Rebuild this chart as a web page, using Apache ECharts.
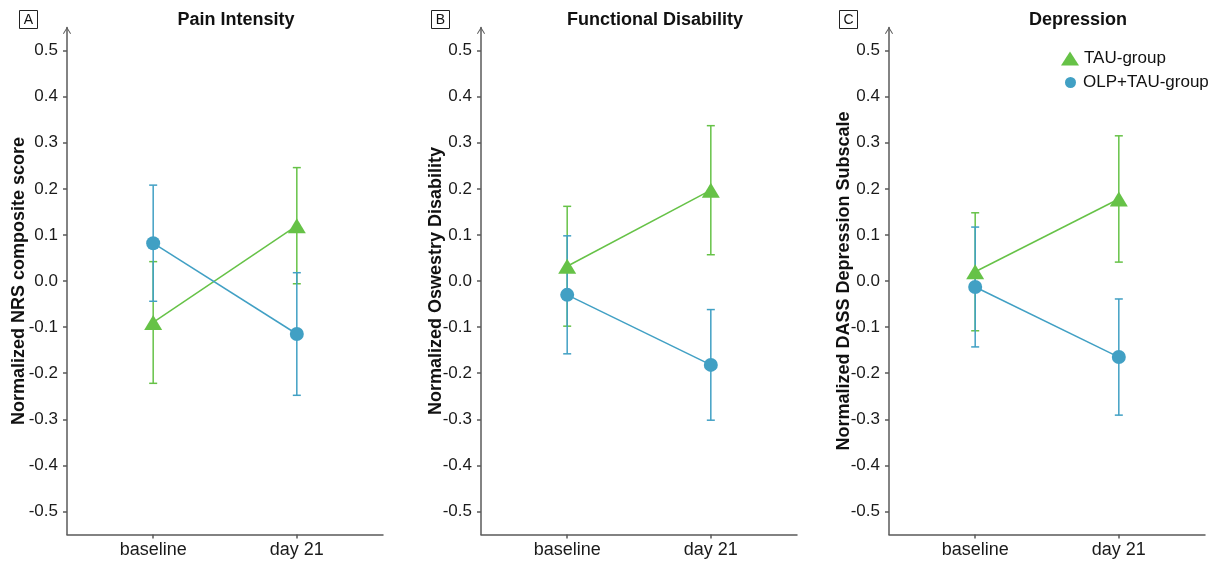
<!DOCTYPE html>
<html><head><meta charset="utf-8">
<script src="https://cdn.jsdelivr.net/npm/echarts@6/dist/echarts.min.js"></script>
<style>html,body{margin:0;padding:0;background:#fff}#c{width:1231px;height:565px}</style>
</head><body><div id="c"></div>
<script>
// ---- data ----
const categories = ['baseline', 'day 21'];
const panelLetters = ['A', 'B', 'C'];
const panelTitles = ['Pain Intensity', 'Functional Disability', 'Depression'];
const yAxisNames = ['Normalized NRS composite score', 'Normalized Oswestry Disability', 'Normalized DASS Depression Subscale'];
const yTickValues = [-0.5, -0.4, -0.3, -0.2, -0.1, 0, 0.1, 0.2, 0.3, 0.4, 0.5];
const groupNames = ['TAU-group', 'OLP+TAU-group'];

const painTauMean = [-0.09, 0.12];
const painTauErr = [0.132, 0.126];
const painOlpMean = [0.082, -0.115];
const painOlpErr = [0.126, 0.133];

const disabTauMean = [0.032, 0.197];
const disabTauErr = [0.13, 0.14];
const disabOlpMean = [-0.03, -0.182];
const disabOlpErr = [0.128, 0.12];

const deprTauMean = [0.02, 0.178];
const deprTauErr = [0.128, 0.137];
const deprOlpMean = [-0.013, -0.165];
const deprOlpErr = [0.13, 0.126];

const panels = [
  { tauMean: painTauMean, tauErr: painTauErr, olpMean: painOlpMean, olpErr: painOlpErr },
  { tauMean: disabTauMean, tauErr: disabTauErr, olpMean: disabOlpMean, olpErr: disabOlpErr },
  { tauMean: deprTauMean, tauErr: deprTauErr, olpMean: deprOlpMean, olpErr: deprOlpErr }
];

// ---- styles ----
const GREEN = '#66c247';
const BLUE = '#41a0c4';
const AXIS = '#5a5a5a';
const FONT = '"Liberation Sans", Arial, Helvetica, sans-serif';
const gridLefts = [67, 481, 889];
const titleCenters = [236, 655, 1078];
const boxLefts = [19, 431, 839];
const nameGaps = [39, 36, 36];

const chart = echarts.init(document.getElementById('c'), null, { renderer: 'canvas' });

function errData(mean, err) {
  return mean.map((m, i) => [i + 1, m - err[i], m + err[i]]);
}
function lineData(mean) {
  return mean.map((m, i) => [i + 1, m]);
}
function errSeries(idx, mean, err, color, name) {
  return {
    type: 'custom', name: name, xAxisIndex: idx, yAxisIndex: idx, z: 2,
    silent: true,
    data: errData(mean, err),
    renderItem: function (params, api) {
      const x = api.value(0);
      const top = api.coord([x, api.value(2)]);
      const bot = api.coord([x, api.value(1)]);
      const hw = 4;
      const st = { stroke: color, lineWidth: 1.5, fill: null };
      return {
        type: 'group', children: [
          { type: 'line', shape: { x1: top[0], y1: top[1], x2: bot[0], y2: bot[1] }, style: st },
          { type: 'line', shape: { x1: top[0] - hw, y1: top[1], x2: top[0] + hw, y2: top[1] }, style: st },
          { type: 'line', shape: { x1: bot[0] - hw, y1: bot[1], x2: bot[0] + hw, y2: bot[1] }, style: st }
        ]
      };
    }
  };
}

const grids = [], xAxes = [], yAxes = [], series = [], graphics = [];
const arrow = 'path://M0,8 L5,0 L10,8 L9,8.7 L5,2.3 L1,8.7 Z';

panels.forEach((p, i) => {
  grids.push({ left: gridLefts[i], width: 316, top: 27.5, height: 507 });
  xAxes.push({
    type: 'value', gridIndex: i, min: 0.4, max: 2.6,
    axisLine: { onZero: false, lineStyle: { color: AXIS, width: 1.5 } },
    axisTick: { show: true, length: 4, customValues: [1, 2], lineStyle: { color: AXIS, width: 1.5 } },
    axisLabel: {
      customValues: [1, 2], margin: 7,
      formatter: v => categories[Math.round(v) - 1],
      color: '#1a1a1a', fontSize: 18, fontFamily: FONT
    },
    splitLine: { show: false }
  });
  yAxes.push({
    type: 'value', gridIndex: i, min: -0.55, max: 0.55,
    name: yAxisNames[i], nameLocation: 'middle', nameGap: nameGaps[i], nameMoveOverlap: false,
    nameTextStyle: { fontSize: 18, fontWeight: 'bold', color: '#111', fontFamily: FONT },
    axisLine: { show: true, onZero: false, lineStyle: { color: AXIS, width: 1.5 },
      symbol: ['none', arrow], symbolSize: [9, 7], symbolOffset: [0, -3] },
    axisTick: { show: true, length: 4, customValues: yTickValues, lineStyle: { color: AXIS, width: 1.5 } },
    axisLabel: {
      customValues: yTickValues, margin: 9,
      formatter: v => v.toFixed(1),
      color: '#1a1a1a', fontSize: 17, fontFamily: FONT
    },
    splitLine: { show: false }
  });
  series.push(errSeries(i, p.tauMean, p.tauErr, GREEN, 'tau-err-' + i));
  series.push(errSeries(i, p.olpMean, p.olpErr, BLUE, 'olp-err-' + i));
  series.push({
    type: 'line', name: groupNames[0], xAxisIndex: i, yAxisIndex: i, z: 3,
    data: lineData(p.tauMean), symbol: 'triangle', symbolSize: [18, 15],
    itemStyle: { color: GREEN }, lineStyle: { color: GREEN, width: 1.5 }, silent: true
  });
  series.push({
    type: 'line', name: groupNames[1], xAxisIndex: i, yAxisIndex: i, z: 3,
    data: lineData(p.olpMean), symbol: 'circle', symbolSize: 14,
    itemStyle: { color: BLUE }, lineStyle: { color: BLUE, width: 1.5 }, silent: true
  });
  graphics.push({
    type: 'text', x: titleCenters[i], y: 20,
    style: { text: panelTitles[i], font: 'bold 18px ' + FONT, fill: '#111', align: 'center', verticalAlign: 'middle' }
  });
  graphics.push({
    type: 'rect', shape: { x: boxLefts[i] + 0.5, y: 10.5, width: 18, height: 18 },
    style: { fill: '#fff', stroke: '#222', lineWidth: 1 }
  });
  graphics.push({
    type: 'text', x: boxLefts[i] + 9.5, y: 20,
    style: { text: panelLetters[i], font: '14px ' + FONT, fill: '#111', align: 'center', verticalAlign: 'middle' }
  });
});

const option = {
  backgroundColor: '#fff',
  animation: false,
  grid: grids,
  xAxis: xAxes,
  yAxis: yAxes,
  series: series,
  legend: [
    {
      orient: 'vertical', left: 1056, top: 45, itemWidth: 18, itemHeight: 14,
      data: [{ name: groupNames[0], icon: 'triangle' }],
      textStyle: { fontSize: 17, color: '#111', fontFamily: FONT }, selectedMode: false
    },
    {
      orient: 'vertical', left: 1060, top: 69, itemWidth: 11, itemHeight: 11,
      data: [{ name: groupNames[1], icon: 'circle' }],
      textStyle: { fontSize: 17, color: '#111', fontFamily: FONT, padding: [0, 0, 0, 2] }, selectedMode: false
    }
  ],
  graphic: graphics
};
chart.setOption(option);
</script>
</body></html>
